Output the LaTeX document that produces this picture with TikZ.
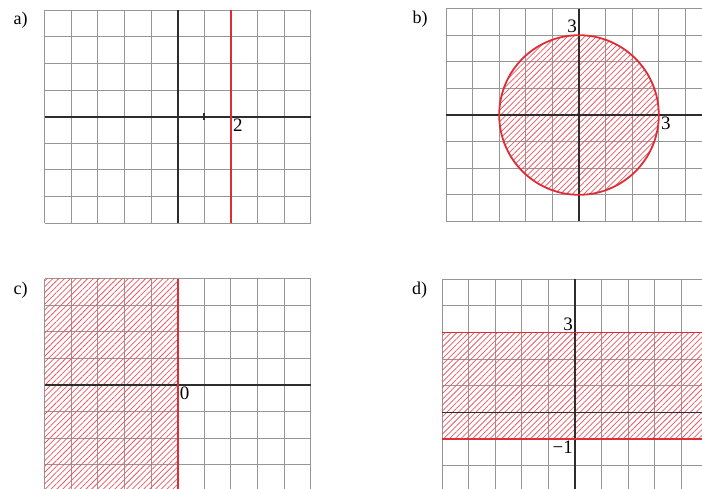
\documentclass[tikz,border=0pt]{standalone}
\usepackage{amsmath}
\usepackage{fontspec}
\setmainfont{Liberation Serif}
\usepackage{tikz}
\usetikzlibrary{patterns.meta}

\definecolor{gridgray}{RGB}{150,150,150}
\definecolor{axisgray}{RGB}{45,45,45}
\definecolor{regred}{RGB}{222,45,55}
\definecolor{hatchred}{RGB}{232,90,100}

\tikzset{
  gridline/.style={gridgray, line width=0.9pt, step=1},
  axisline/.style={axisgray, line width=1.6pt},
  bound/.style={regred, line width=1.8pt},
  hatched/.style={pattern={Lines[angle=45,distance=4.1pt,line width=0.75pt]}, pattern color=hatchred},
  panel/.style={font=\fontsize{18}{20}\selectfont, inner sep=0pt},
  num/.style={font=\fontsize{19}{21}\selectfont, inner sep=2pt},
}

\begin{document}
\begin{tikzpicture}[x=1pt, y=-1pt]
    \useasboundingbox (0,0) rectangle (702,488);
    \clip (0,0) rectangle (702,488);
    \fill[white] (0,0) rectangle (702,488);

    % --- a) vertical line x = 2 ---
    \node[panel] (labA) at (20.5,20.5) {a)};
    \begin{scope}[shift={(177.7,116.7)}, x=26.6pt, y=26.6pt]
        \draw[gridline] (-5,-4) grid (5,4);
        \draw[axisline] (-5,0) -- (5,0);
        \draw[axisline] (0,-4) -- (0,4);
        \draw[axisgray, line width=2pt] (1,-0.13) -- (1,0.13); % unit tick
        \draw[bound] (2,-4) -- (2,4);
        \node[num, anchor=north west] (numA) at (2,0) {2};
    \end{scope}

    % --- b) disc of radius 3 ---
    \node[panel] (labB) at (420,19) {b)};
    \begin{scope}[shift={(579,115)}, x=26.6pt, y=26.6pt]
        \draw[gridline] (-5,-4) grid (4.7,4);
        \fill[hatched] (0,0) circle (3);
        \draw[axisline] (-5,0) -- (4.7,0);
        \draw[axisline] (0,-4) -- (0,4);
        \draw[bound] (0,0) circle (3);
        \node[num, anchor=south east] (numBy) at (0,3) {3};
        \node[num, anchor=north west] (numBx) at (3,0) {3};
    \end{scope}

    % --- c) half plane x <= 0 ---
    \node[panel] (labC) at (20.5,290.5) {c)};
    \begin{scope}[shift={(177.7,385)}, x=26.6pt, y=26.6pt]
        \draw[gridline] (-5,-4) grid (5,4);
        \fill[hatched] (-5,-4) rectangle (0,4);
        \draw[axisline] (-5,0) -- (5,0);
        \draw[bound] (0,-4) -- (0,4);
        \node[num, anchor=north west] (numC) at (0,0) {0};
    \end{scope}

    % --- d) strip -1 <= y <= 3 ---
    \node[panel] (labD) at (419.5,290.5) {d)};
    \begin{scope}[shift={(575,412.3)}, x=26.6pt, y=26.6pt]
        \draw[gridline] (-5,-3) grid (4.8,5);
        \fill[hatched] (-5,-1) rectangle (4.8,3);
        \draw[axisline] (-5,0) -- (4.8,0);
        \draw[axisline] (0,-3) -- (0,5);
        \draw[bound] (-5,3) -- (4.8,3);
        \draw[bound] (-5,-1) -- (4.8,-1);
        \node[num, anchor=south east] (numDt) at (0,3) {3};
        \node[num, anchor=north east] (numDb) at (0,-1) {\textminus1};
    \end{scope}
\end{tikzpicture}
\end{document}
